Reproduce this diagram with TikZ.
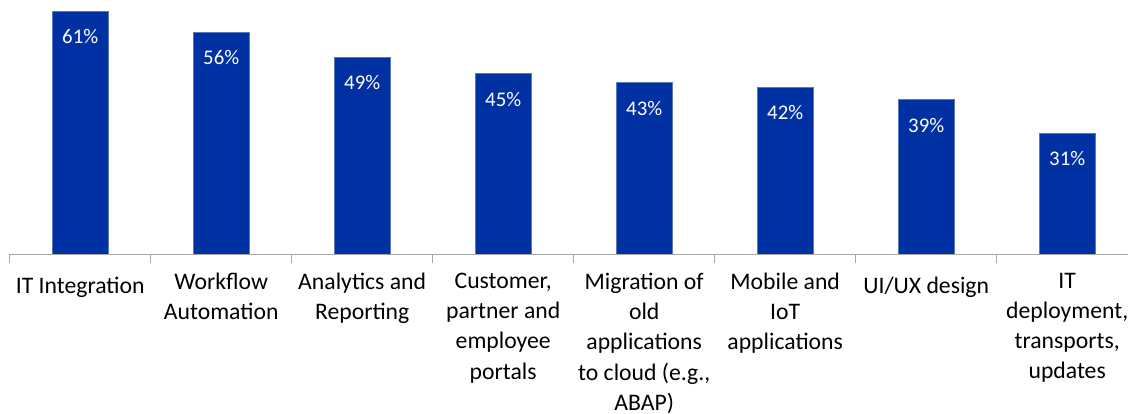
\documentclass[tikz,border=0pt]{standalone}
\usepackage{fontspec}
\setmainfont{Carlito}
\usetikzlibrary{positioning}
\definecolor{barblue}{RGB}{0,49,163}
\definecolor{axisgray}{RGB}{166,166,166}

\begin{document}
\begin{tikzpicture}[
    x=1pt, y=-1pt,
    bar/.style={rectangle, anchor=south, inner sep=0pt, minimum width=56.5pt, fill=barblue, draw=barblue!65!white, line width=0.5pt},
    pct/.style={anchor=base, inner sep=0pt, text=white, font=\fontsize{20.8}{25}\selectfont},
    cat/.style={anchor=north, inner sep=0pt, align=center, font=\fontsize{23.7}{29.2}\selectfont, execute at begin node=\strut},
    axis/.style={draw=axisgray, line width=1.3pt}
]
\useasboundingbox (0,0) rectangle (1128,414);

% Bars
\node[bar, minimum height=243pt] (bar1) at (80.2,254.3) {};
\node[bar, minimum height=222pt] (bar2) at (221.2,254.3) {};
\node[bar, minimum height=197pt] (bar3) at (362.2,254.3) {};
\node[bar, minimum height=180.3pt] (bar4) at (503.2,254.3) {};
\node[bar, minimum height=171.3pt] (bar5) at (644.2,254.3) {};
\node[bar, minimum height=167pt] (bar6) at (785.2,254.3) {};
\node[bar, minimum height=154.6pt] (bar7) at (926.2,254.3) {};
\node[bar, minimum height=121pt] (bar8) at (1067.2,254.3) {};

% Values
\node[pct] (val1) at (80.2,43.8) {61\%};
\node[pct] (val2) at (221.2,64.8) {56\%};
\node[pct] (val3) at (362.2,89.8) {49\%};
\node[pct] (val4) at (503.2,106.5) {45\%};
\node[pct] (val5) at (644.2,115.5) {43\%};
\node[pct] (val6) at (785.2,119.8) {42\%};
\node[pct] (val7) at (926.2,132.2) {39\%};
\node[pct] (val8) at (1067.2,165.8) {31\%};

% Axis and ticks
\draw[axis] (9.3,254.3) -- (1128,254.3);
\draw[axis] (9.5,254.3) -- (9.5,262.7);
\draw[axis] (150.5,254.3) -- (150.5,262.7);
\draw[axis] (291.5,254.3) -- (291.5,262.7);
\draw[axis] (432.5,254.3) -- (432.5,262.7);
\draw[axis] (573.5,254.3) -- (573.5,262.7);
\draw[axis] (714.5,254.3) -- (714.5,262.7);
\draw[axis] (855.5,254.3) -- (855.5,262.7);
\draw[axis] (996.5,254.3) -- (996.5,262.7);

% Categories
\node[cat] (cat1) at (80.2,272.86) {IT Integration};
\node[cat] (cat2) at (221.2,272.86) {Workflow\\[1pt]Automation};
\node[cat] (cat3) at (362.2,272.86) {Analytics and\\[1pt]Reporting};
\node[cat] (cat4) at (503.2,272.86) {Customer,\\[1pt]partner and\\[1pt]employee\\[1pt]portals};
\node[cat] (cat5) at (644.2,272.86) {Migration of\\[1pt]old\\[1pt]applications\\[1pt]to cloud (e.g.,\\[1pt]ABAP)};
\node[cat] (cat6) at (785.2,272.86) {Mobile and\\[1pt]IoT\\[1pt]applications};
\node[cat] (cat7) at (926.2,272.86) {UI/UX design};
\node[cat] (cat8) at (1067.2,272.86) {IT\\[1pt]deployment,\\[1pt]transports,\\[1pt]updates};

\end{tikzpicture}
\end{document}
